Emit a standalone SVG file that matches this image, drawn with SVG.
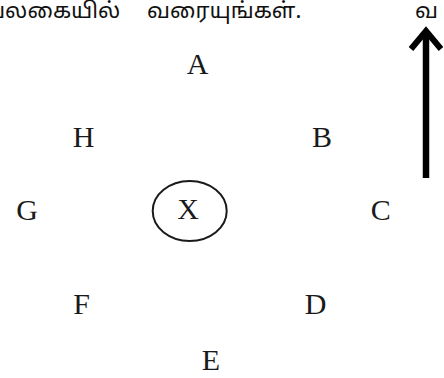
<svg xmlns="http://www.w3.org/2000/svg" width="444" height="378" viewBox="0 0 444 378">
<style>
.lbl{font-family:"Liberation Serif","Times New Roman",serif;font-size:30px;fill:#1a1a1a;text-anchor:middle}
.ta{font-family:"Noto Sans Tamil","Noto Sans","Liberation Sans",sans-serif;font-size:22px;fill:#111}
</style>
<rect width="444" height="378" fill="#fff"/>
<text class="ta" x="-12" y="18">பலகையில்</text>
<text class="ta" x="147" y="18">வரையுங்கள்.</text>
<text class="ta" x="415" y="18">வ</text>
<g id="connectors">
<line x1="426" y1="178" x2="426" y2="32" stroke="#000" stroke-width="6.5"/>
<polyline points="411,49 426,31 441,49" fill="none" stroke="#000" stroke-width="6"/>
</g>
<g id="A"><text class="lbl" x="197.5" y="74">A</text></g>
<g id="H"><text class="lbl" x="83.5" y="146.5">H</text></g>
<g id="B"><text class="lbl" x="322" y="146.5">B</text></g>
<g id="G"><text class="lbl" x="27" y="219.5">G</text></g>
<g id="X"><ellipse cx="189.7" cy="211" rx="37" ry="30" fill="none" stroke="#1a1a1a" stroke-width="2"/><text class="lbl" x="188" y="218.5">X</text></g>
<g id="C"><text class="lbl" x="380.7" y="219.5">C</text></g>
<g id="F"><text class="lbl" x="81.5" y="314">F</text></g>
<g id="D"><text class="lbl" x="315.5" y="314">D</text></g>
<g id="E"><text class="lbl" x="211" y="370">E</text></g>
</svg>
